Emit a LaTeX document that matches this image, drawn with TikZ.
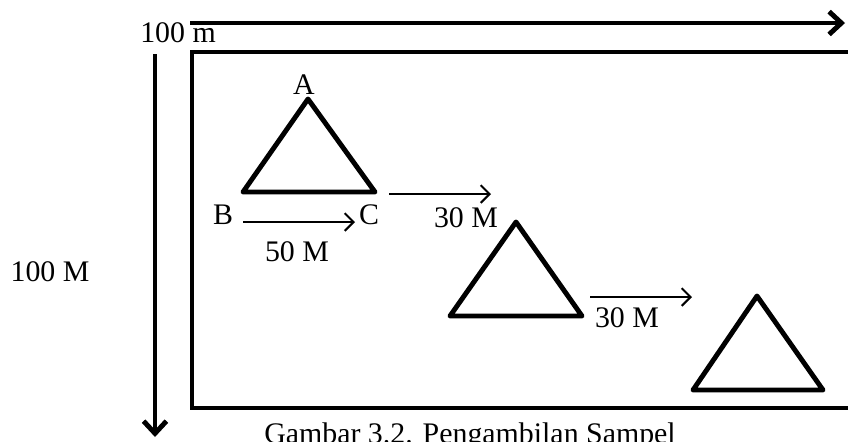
\documentclass[tikz,border=0pt]{standalone}
\usepackage{fontspec}
\setmainfont{Liberation Serif}
\usetikzlibrary{arrows.meta}
\begin{document}
\begin{tikzpicture}[x=0.02cm, y=-0.02cm,
    every node/.style={font=\fontsize{17}{20}\selectfont, inner sep=0pt},
    bigarrow/.style={line width=2.8pt, -{Straight Barb[length=7pt, width=13pt, line width=2.8pt]}},
    steparrow/.style={line width=1.2pt, -{Straight Barb[length=5pt, width=10pt, line width=1.2pt]}},
    tri/.style={line width=2.8pt, line join=round, line cap=round}]
    \useasboundingbox (0,0) rectangle (848,441);

    % --- FIELD ---
    \draw[line width=2.8pt] (848,52) -- (192,52) -- (192,408) -- (848,408);
    \coordinate (topL) at (190,23);
    \coordinate (topR) at (845,23);
    \draw[bigarrow] (topL) -- (topR);
    \node (wide) at (178,33) {100 m};
    \coordinate (sideT) at (155,54);
    \coordinate (sideB) at (155,437);
    \draw[bigarrow] (sideT) -- (sideB);
    \node (tall) at (50,272) {100 M};

    % --- SAMPLE PLOTS ---
    \coordinate (A) at (308,99);
    \coordinate (B) at (243,192);
    \coordinate (C) at (375,192);
    \draw[tri] (A) -- (B) -- (C) -- cycle;
    \node (labA) at (304,85) {A};
    \node (labB) at (223,215) {B};
    \node (labC) at (369,215) {C};

    \coordinate (A2) at (516,222);
    \coordinate (B2) at (450,316);
    \coordinate (C2) at (582,316);
    \draw[tri] (A2) -- (B2) -- (C2) -- cycle;

    \coordinate (A3) at (757,296);
    \coordinate (B3) at (693,390);
    \coordinate (C3) at (823,390);
    \draw[tri] (A3) -- (B3) -- (C3) -- cycle;

    % Distances
    \coordinate (s1) at (243,222);
    \coordinate (e1) at (355,222);
    \draw[steparrow] (s1) -- (e1);
    \node (d1) at (297,252) {50 M};
    \coordinate (s2) at (389,194);
    \coordinate (e2) at (491,194);
    \draw[steparrow] (s2) -- (e2);
    \node (d2) at (466,218) {30 M};
    \coordinate (s3) at (590,297);
    \coordinate (e3) at (692,297);
    \draw[steparrow] (s3) -- (e3);
    \node (d3) at (627,318) {30 M};

    \node[anchor=north] (caption) at (470,422) {Gambar 3.2. Pengambilan Sampel};
\end{tikzpicture}
\end{document}
